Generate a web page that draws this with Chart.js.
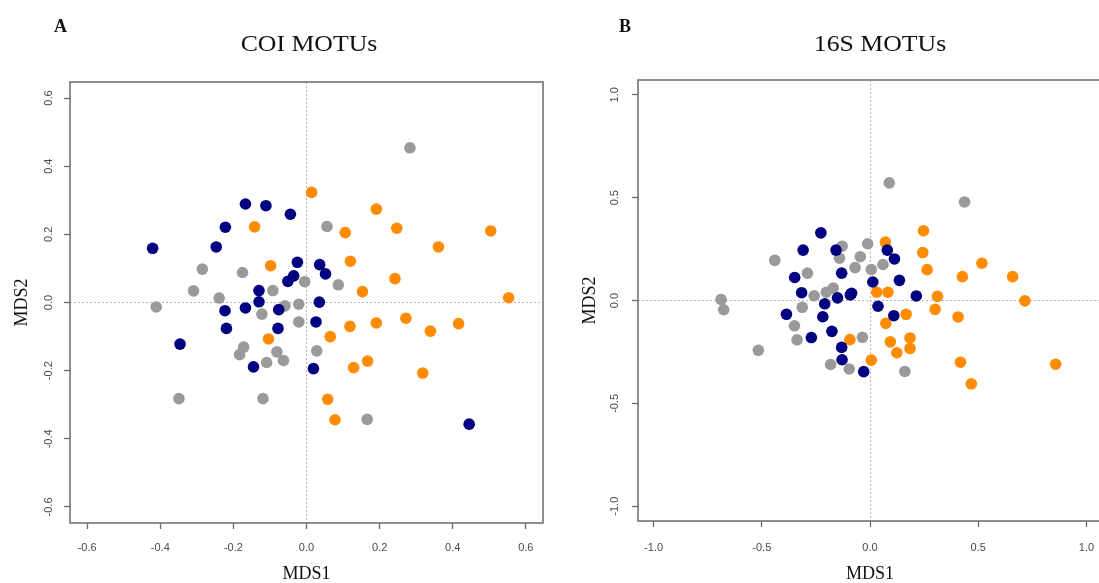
<!DOCTYPE html>
<html>
<head>
<meta charset="utf-8">
<script src="https://cdn.jsdelivr.net/npm/chart.js@4.4.1/dist/chart.umd.min.js"></script>
<style>
  html, body { margin: 0; padding: 0; background: #fff; overflow: hidden; }
  body { width: 1099px; height: 583px; position: relative; }
  .panel { position: absolute; top: 0; height: 583px; }
  #wrapA { left: 0; width: 560px; }
  #wrapB { left: 575px; width: 540px; }
  .letter { position: absolute; top: 16px; font: bold 18px "Liberation Serif", serif; color: #111; z-index: 2; }
  .title { position: absolute; top: 31px; font: 23px "Liberation Serif", serif; color: #111; transform: translateX(-50%) scaleX(1.12); white-space: nowrap; z-index: 2; }
</style>
</head>
<body>
<div class="panel" id="wrapA"><canvas id="coiChart"></canvas></div>
<div class="panel" id="wrapB"><canvas id="s16Chart"></canvas></div>
<div class="letter" style="left:54px">A</div>
<div class="title" style="left:309px">COI MOTUs</div>
<div class="letter" style="left:619px">B</div>
<div class="title" style="left:880px">16S MOTUs</div>
<script>
// panel A - COI MOTUs, [MDS1, MDS2]
const coiNavy = [[-0.167,0.289],[-0.111,0.284],[-0.044,0.259],[-0.222,0.221],[-0.421,0.159],[-0.247,0.163],
  [-0.025,0.118],[0.036,0.111],[0.052,0.084],[-0.035,0.078],[-0.051,0.062],[-0.130,0.035],[-0.130,0.002],
  [0.035,0.001],[-0.223,-0.024],[-0.167,-0.016],[-0.076,-0.021],[-0.219,-0.076],[-0.078,-0.076],[0.026,-0.057],
  [-0.346,-0.122],[-0.145,-0.189],[0.019,-0.194],[0.445,-0.357]];
const coiGray = [[0.283,0.454],[0.056,0.223],[-0.285,0.098],[-0.175,0.088],[-0.005,0.061],[0.087,0.052],
  [-0.309,0.034],[-0.239,0.013],[-0.092,0.035],[-0.411,-0.013],[-0.122,-0.034],[-0.059,-0.010],[-0.021,-0.005],
  [-0.021,-0.057],[-0.172,-0.131],[-0.183,-0.153],[-0.081,-0.145],[-0.063,-0.170],[-0.109,-0.176],[0.028,-0.142],
  [-0.349,-0.282],[-0.119,-0.282],[0.166,-0.343]];
const coiOrange = [[0.014,0.323],[-0.142,0.222],[-0.098,0.108],[0.191,0.274],[0.106,0.205],[0.247,0.218],
  [0.504,0.210],[0.361,0.163],[0.120,0.121],[0.242,0.070],[0.153,0.032],[0.553,0.014],[0.272,-0.046],
  [0.191,-0.060],[0.119,-0.070],[0.339,-0.084],[0.416,-0.062],[0.065,-0.100],[-0.104,-0.107],[0.129,-0.191],
  [0.167,-0.172],[0.318,-0.207],[0.058,-0.284],[0.078,-0.344]];
const coiTicks = [-0.6, -0.4, -0.2, 0.0, 0.2, 0.4, 0.6];

// panel B - 16S MOTUs
const s16Navy = [[-0.227,0.329],[-0.309,0.245],[-0.157,0.245],[0.080,0.245],[0.113,0.202],[-0.348,0.112],
  [-0.131,0.133],[0.013,0.090],[0.136,0.098],[-0.316,0.038],[-0.150,0.013],[-0.091,0.027],[-0.085,0.035],
  [0.214,0.022],[-0.209,-0.016],[0.037,-0.028],[-0.386,-0.067],[-0.218,-0.079],[0.110,-0.074],[-0.176,-0.150],
  [-0.271,-0.180],[-0.131,-0.228],[-0.129,-0.288],[-0.029,-0.346]];
const s16Gray = [[0.089,0.572],[0.437,0.479],[-0.011,0.276],[-0.129,0.264],[-0.045,0.213],[-0.141,0.206],
  [-0.440,0.195],[0.060,0.175],[-0.069,0.160],[0.006,0.151],[-0.289,0.133],[-0.170,0.060],[-0.202,0.040],
  [-0.258,0.023],[-0.688,0.005],[-0.676,-0.045],[-0.313,-0.033],[-0.349,-0.123],[-0.337,-0.191],[-0.035,-0.179],
  [-0.516,-0.242],[-0.182,-0.311],[-0.096,-0.333],[0.161,-0.345]];
const s16Orange = [[0.247,0.339],[0.071,0.284],[0.244,0.233],[0.264,0.150],[0.517,0.181],[0.427,0.116],
  [0.659,0.116],[0.031,0.040],[0.083,0.040],[0.312,0.020],[0.716,-0.002],[0.301,-0.043],[0.167,-0.067],
  [0.073,-0.111],[0.407,-0.080],[-0.093,-0.190],[0.185,-0.182],[0.094,-0.201],[0.185,-0.233],[0.124,-0.254],
  [0.006,-0.290],[0.418,-0.300],[0.858,-0.310],[0.468,-0.405]];
const s16Ticks = [-1.0, -0.5, 0.0, 0.5, 1.0];

const NAVY = '#000080', ORANGE = '#ff8c00', GREY = '#9a9a9a';

// frame around the plot region, like R's box()
// panel B is cut at the page edge in the figure, so its right side is left open
const boxPlugin = {
  id: 'box',
  beforeDatasetsDraw(chart, args, opts) {
    const { ctx, chartArea: a } = chart;
    ctx.save();
    ctx.strokeStyle = '#6b6b6b';
    ctx.lineWidth = 1.5;
    ctx.beginPath();
    ctx.moveTo(a.right, a.top);
    ctx.lineTo(a.left, a.top);
    ctx.lineTo(a.left, a.bottom);
    ctx.lineTo(a.right, a.bottom);
    if (!opts.openRight) ctx.closePath();
    ctx.stroke();
    ctx.restore();
  }
};

const toPts = arr => arr.map(p => ({ x: p[0], y: p[1] }));

function axis(opts) {
  const horiz = opts.horiz;
  return {
    type: 'linear',
    position: horiz ? 'bottom' : 'left',
    min: -opts.lim,
    max: opts.lim,
    afterBuildTicks: s => { s.ticks = opts.ticks.map(v => ({ value: v })); },
    afterFit: s => { if (horiz) s.height = opts.size; else s.width = opts.size; },
    border: { display: false, dash: [2, 2] },
    grid: {
      color: c => (c.tick && Math.abs(c.tick.value) < 1e-9) ? '#b8b8b8' : 'rgba(0,0,0,0)',
      lineWidth: 1,
      tickColor: '#6b6b6b',
      tickLength: 6,
      tickWidth: 1.3
    },
    ticks: {
      color: '#4a4a4a',
      font: { family: '"Liberation Sans", Arial, sans-serif', size: 11 },
      padding: opts.pad,
      autoSkip: false,
      minRotation: horiz ? 0 : 90,
      maxRotation: horiz ? 0 : 90,
      crossAlign: horiz ? 'near' : 'center',
      callback: v => v.toFixed(1)
    },
    title: {
      display: true,
      text: opts.title,
      color: '#111',
      font: { family: '"Liberation Serif", "Times New Roman", serif', size: 18, lineHeight: 1 },
      padding: opts.titlePad
    }
  };
}

function makeChart(id, navy, orange, grey, ticks, lim, g) {
  return new Chart(document.getElementById(id), {
    type: 'scatter',
    data: {
      datasets: [
        { label: 'group 1', data: toPts(navy), backgroundColor: NAVY },
        { label: 'group 2', data: toPts(orange), backgroundColor: ORANGE },
        { label: 'group 3', data: toPts(grey), backgroundColor: GREY }
      ]
    },
    options: {
      responsive: true,
      maintainAspectRatio: false,
      animation: false,
      events: [],
      layout: { padding: { top: g.top, right: g.right, left: 0, bottom: 0 } },
      elements: { point: { radius: 5.8, borderWidth: 0, hoverRadius: 5.8 } },
      plugins: { legend: { display: false }, tooltip: { enabled: false }, box: { openRight: g.openRight } },
      scales: {
        x: axis({ horiz: true, lim: lim, ticks: ticks, size: g.xh, pad: g.xpad, title: 'MDS1', titlePad: { top: 0, bottom: g.xtp } }),
        y: axis({ horiz: false, lim: lim, ticks: ticks, size: g.yw, pad: g.ypad, title: 'MDS2', titlePad: { top: g.ytp, bottom: 0 } })
      }
    },
    plugins: [boxPlugin]
  });
}

makeChart('coiChart', coiNavy, coiOrange, coiGray, coiTicks, 0.647,
  { top: 82, right: 17, xh: 60, yw: 70, xpad: 12, ypad: 5.5, xtp: 0, ytp: 13, openRight: false });
makeChart('s16Chart', s16Navy, s16Orange, s16Gray, s16Ticks, 1.072,
  { top: 80, right: 13, xh: 62, yw: 63, xpad: 14, ypad: 7.5, xtp: 0, ytp: 6, openRight: true });
</script>
</body>
</html>
